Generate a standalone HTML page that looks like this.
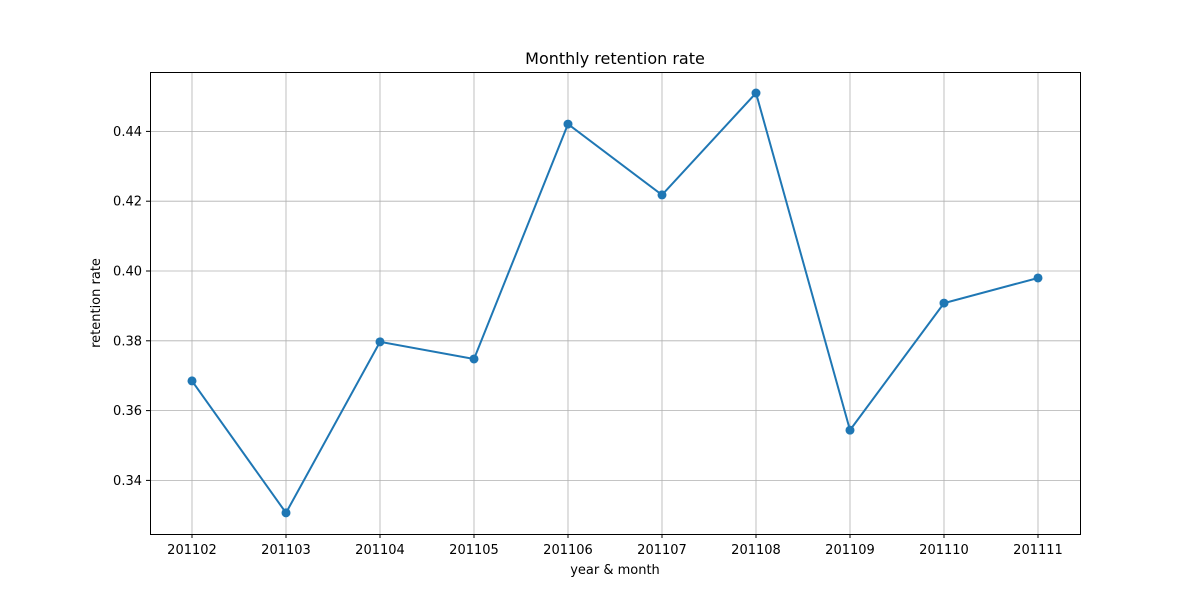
<!DOCTYPE html>
<html><head><meta charset="utf-8"><style>
body{margin:0;background:#fff;font-family:"Liberation Sans","DejaVu Sans",sans-serif}
</style></head><body>
<svg id="chart" width="1200" height="600" xmlns="http://www.w3.org/2000/svg" font-family="DejaVu Sans, Liberation Sans, sans-serif">
<rect width="1200" height="600" fill="#fff"/>
<g id="grid"></g>
<g id="ticks"></g>
<rect x="150.5" y="72.5" width="930" height="462" fill="none" stroke="#000" stroke-width="1"/>
<g id="series"></g>
<text x="615" y="64" text-anchor="middle" font-size="16">Monthly retention rate</text>
<text x="615" y="574" text-anchor="middle" font-size="13">year &amp; month</text>
<text transform="translate(100,303) rotate(-90)" text-anchor="middle" font-size="13">retention rate</text>
</svg>
<script>
const categories=["201102","201103","201104","201105","201106","201107","201108","201109","201110","201111"];
const values=[0.3685,0.3307,0.3797,0.3748,0.4421,0.4218,0.4510,0.3544,0.3908,0.3980];
const yTicks=[0.34,0.36,0.38,0.40,0.42,0.44];
const yTickLabels=["0.34","0.36","0.38","0.40","0.42","0.44"];
const NS="http://www.w3.org/2000/svg";
const L=150,R=1080,T=72,B=534;
const x0=192,x1=1038;
function xs(i){return x0+(x1-x0)*i/(categories.length-1);}
function ys(v){return 271-(v-0.40)*3490;}
function mk(tag,attrs,parent){const e=document.createElementNS(NS,tag);for(const k in attrs)e.setAttribute(k,attrs[k]);parent.appendChild(e);return e;}
const grid=document.getElementById('grid'),ticks=document.getElementById('ticks'),series=document.getElementById('series');
categories.forEach((c,i)=>{const x=xs(i);
 const g=mk('line',{x1:x,x2:x,y1:T,y2:B,stroke:'#b0b0b0','stroke-width':0.8},grid);
 
 
 const t=mk('line',{x1:x,x2:x,y1:B,y2:B+4,stroke:'#000'},ticks);
 
 
 const lb=mk('text',{x:x,y:B+20,'text-anchor':'middle','font-size':13},ticks);lb.textContent=c;
 
 
});
yTicks.forEach((v,i)=>{const y=ys(v);
 const g=mk('line',{x1:L,x2:R,y1:y,y2:y,stroke:'#b0b0b0','stroke-width':0.8},grid);
 
 
 const t=mk('line',{x1:L-4,x2:L,y1:y,y2:y,stroke:'#000'},ticks);
 
 
 const lb=mk('text',{x:L-8,y:y+4.5,'text-anchor':'end','font-size':13},ticks);lb.textContent=yTickLabels[i];
 
 
});
const pl=mk('polyline',{points:values.map((v,i)=>xs(i)+','+ys(v)).join(' '),fill:'none',stroke:'#1f77b4','stroke-width':2},series);


values.forEach((v,i)=>{const c=mk('circle',{cx:xs(i),cy:ys(v),r:4.5,fill:'#1f77b4'},series);
 
 
});
</script>
</body></html>
